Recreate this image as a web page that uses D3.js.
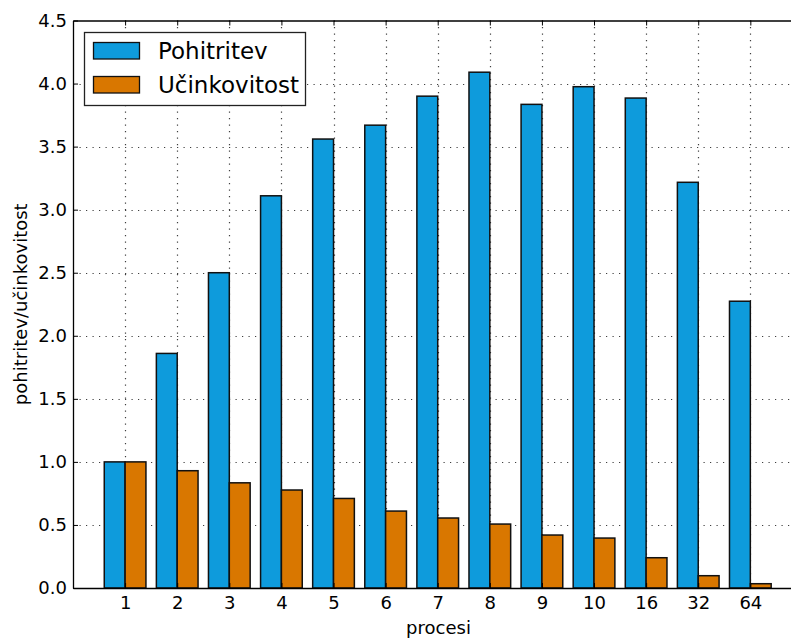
<!DOCTYPE html>
<html>
<head>
<meta charset="utf-8">
<script src="https://cdn.jsdelivr.net/npm/d3@7"></script>
<style>
  body { margin: 0; background: #fff; }
  svg { font-family: "DejaVu Sans", sans-serif; }
</style>
</head>
<body>
<div class="canvas"></div>
<script>
// chart data
const procesi = ['1', '2', '3', '4', '5', '6', '7', '8', '9', '10', '16', '32', '64']
const pohitritev = [1.0, 1.86, 2.50, 3.11, 3.56, 3.67, 3.90, 4.09, 3.835, 3.975, 3.885, 3.217, 2.274]
const ucinkovitost = [1.0, 0.93, 0.834, 0.777, 0.71, 0.61, 0.555, 0.507, 0.42, 0.396, 0.24, 0.0975, 0.034]
const yTicks = [0, 0.5, 1.0, 1.5, 2.0, 2.5, 3.0, 3.5, 4.0, 4.5]
const seriesNames = ['Pohitritev', 'Učinkovitost']
const colours = ['#0e9bdc', '#d97700']

const W = 791, H = 638
// the axes box runs a little past the right edge of the picture
const plot = { left: 73, right: 804, top: 20.5, bottom: 588 }
const barW = 0.4
const fontSize = '18px'

const svg = d3.select('.canvas')
  .append('svg')
  .attr('width', W)
  .attr('height', H)

// index scale: bars of a group start at i, tick at i + 0.4
const x = d3.scaleLinear()
  .domain([-0.6, 13.43])
  .range([plot.left, plot.right])

const y = d3.scaleLinear()
  .domain([0, 4.5])
  .range([plot.bottom, plot.top])

// grid lines
const grid = svg.append('g')
  .attr('stroke', '#000')
  .attr('stroke-width', 1.2)
  .attr('stroke-dasharray', '1.2,5.3')
  .attr('opacity', 0.75)

grid.selectAll('line.gx')
  .data(procesi)
  .enter()
  .append('line')
  .attr('x1', (d, i) => Math.round(x(i + barW)) + 0.5)
  .attr('x2', (d, i) => Math.round(x(i + barW)) + 0.5)
  .attr('y1', plot.top)
  .attr('y2', plot.bottom)

grid.selectAll('line.gy')
  .data(yTicks.slice(1, -1))
  .enter()
  .append('line')
  .attr('x1', plot.left)
  .attr('x2', plot.right)
  .attr('y1', d => Math.round(y(d)) + 0.5)
  .attr('y2', d => Math.round(y(d)) + 0.5)

// bars
const series = [pohitritev, ucinkovitost]
series.forEach((vals, s) => {
  svg.append('g').selectAll('rect')
    .data(vals)
    .enter()
    .append('rect')
    .attr('x', (d, i) => x(i + s * barW))
    .attr('width', x(barW) - x(0))
    .attr('y', d => y(d))
    .attr('height', d => y(0) - y(d))
    .attr('fill', colours[s])
    .attr('stroke', '#111')
    .attr('stroke-width', 1.5)
})

// axes (inside ticks, matplotlib classic look)
const xAxis = d3.axisBottom(x)
  .tickValues(procesi.map((d, i) => i + barW))
  .tickFormat((d, i) => procesi[i])
  .tickSizeInner(-5)
  .tickSizeOuter(0)
  .tickPadding(8)

const xa = svg.append('g')
  .attr('transform', `translate(0, ${plot.bottom})`)
  .call(xAxis)

const xTop = svg.append('g')
  .attr('transform', `translate(0, ${plot.top})`)
  .call(d3.axisTop(x)
    .tickValues(procesi.map((d, i) => i + barW))
    .tickFormat('')
    .tickSizeInner(-5)
    .tickSizeOuter(0))

const yAxis = d3.axisLeft(y)
  .tickValues(yTicks)
  .tickFormat(d3.format('.1f'))
  .tickSizeInner(-5)
  .tickSizeOuter(0)
  .tickPadding(6)

const ya = svg.append('g')
  .attr('transform', `translate(${plot.left}, 0)`)
  .call(yAxis)

;[xa, xTop, ya].forEach(a => {
  a.selectAll('.domain').attr('stroke', '#000').attr('stroke-width', 1.3)
  a.selectAll('.tick line').attr('stroke', '#000')
  a.selectAll('text')
    .attr('fill', '#000')
    .style('font-family', '"DejaVu Sans", sans-serif')
    .style('font-size', fontSize)
})

// axis titles
svg.append('text')
  .attr('x', (plot.left + plot.right) / 2)
  .attr('y', 634)
  .attr('text-anchor', 'middle')
  .style('font-size', fontSize)
  .text('procesi')

svg.append('text')
  .attr('transform', `translate(27, ${(plot.top + plot.bottom) / 2}) rotate(-90)`)
  .attr('text-anchor', 'middle')
  .style('font-size', fontSize)
  .text('pohitritev/učinkovitost')

// legend
const legend = svg.append('g')

legend.append('rect')
  .attr('x', 84.5)
  .attr('y', 32.5)
  .attr('width', 221)
  .attr('height', 73)
  .attr('fill', '#fff')
  .attr('stroke', '#222')
  .attr('stroke-width', 1.3)

const items = legend.selectAll('g.item')
  .data(seriesNames)
  .enter()
  .append('g')
  .attr('transform', (d, i) => `translate(0, ${i * 34})`)

items.append('rect')
  .attr('x', 93.5)
  .attr('y', 42.5)
  .attr('width', 46)
  .attr('height', 16.5)
  .attr('fill', (d, i) => colours[i])
  .attr('stroke', '#111')
  .attr('stroke-width', 1.3)

items.append('text')
  .attr('x', 158)
  .attr('y', 58.5)
  .style('font-size', '23px')
  .text(d => d)
</script>
</body>
</html>
